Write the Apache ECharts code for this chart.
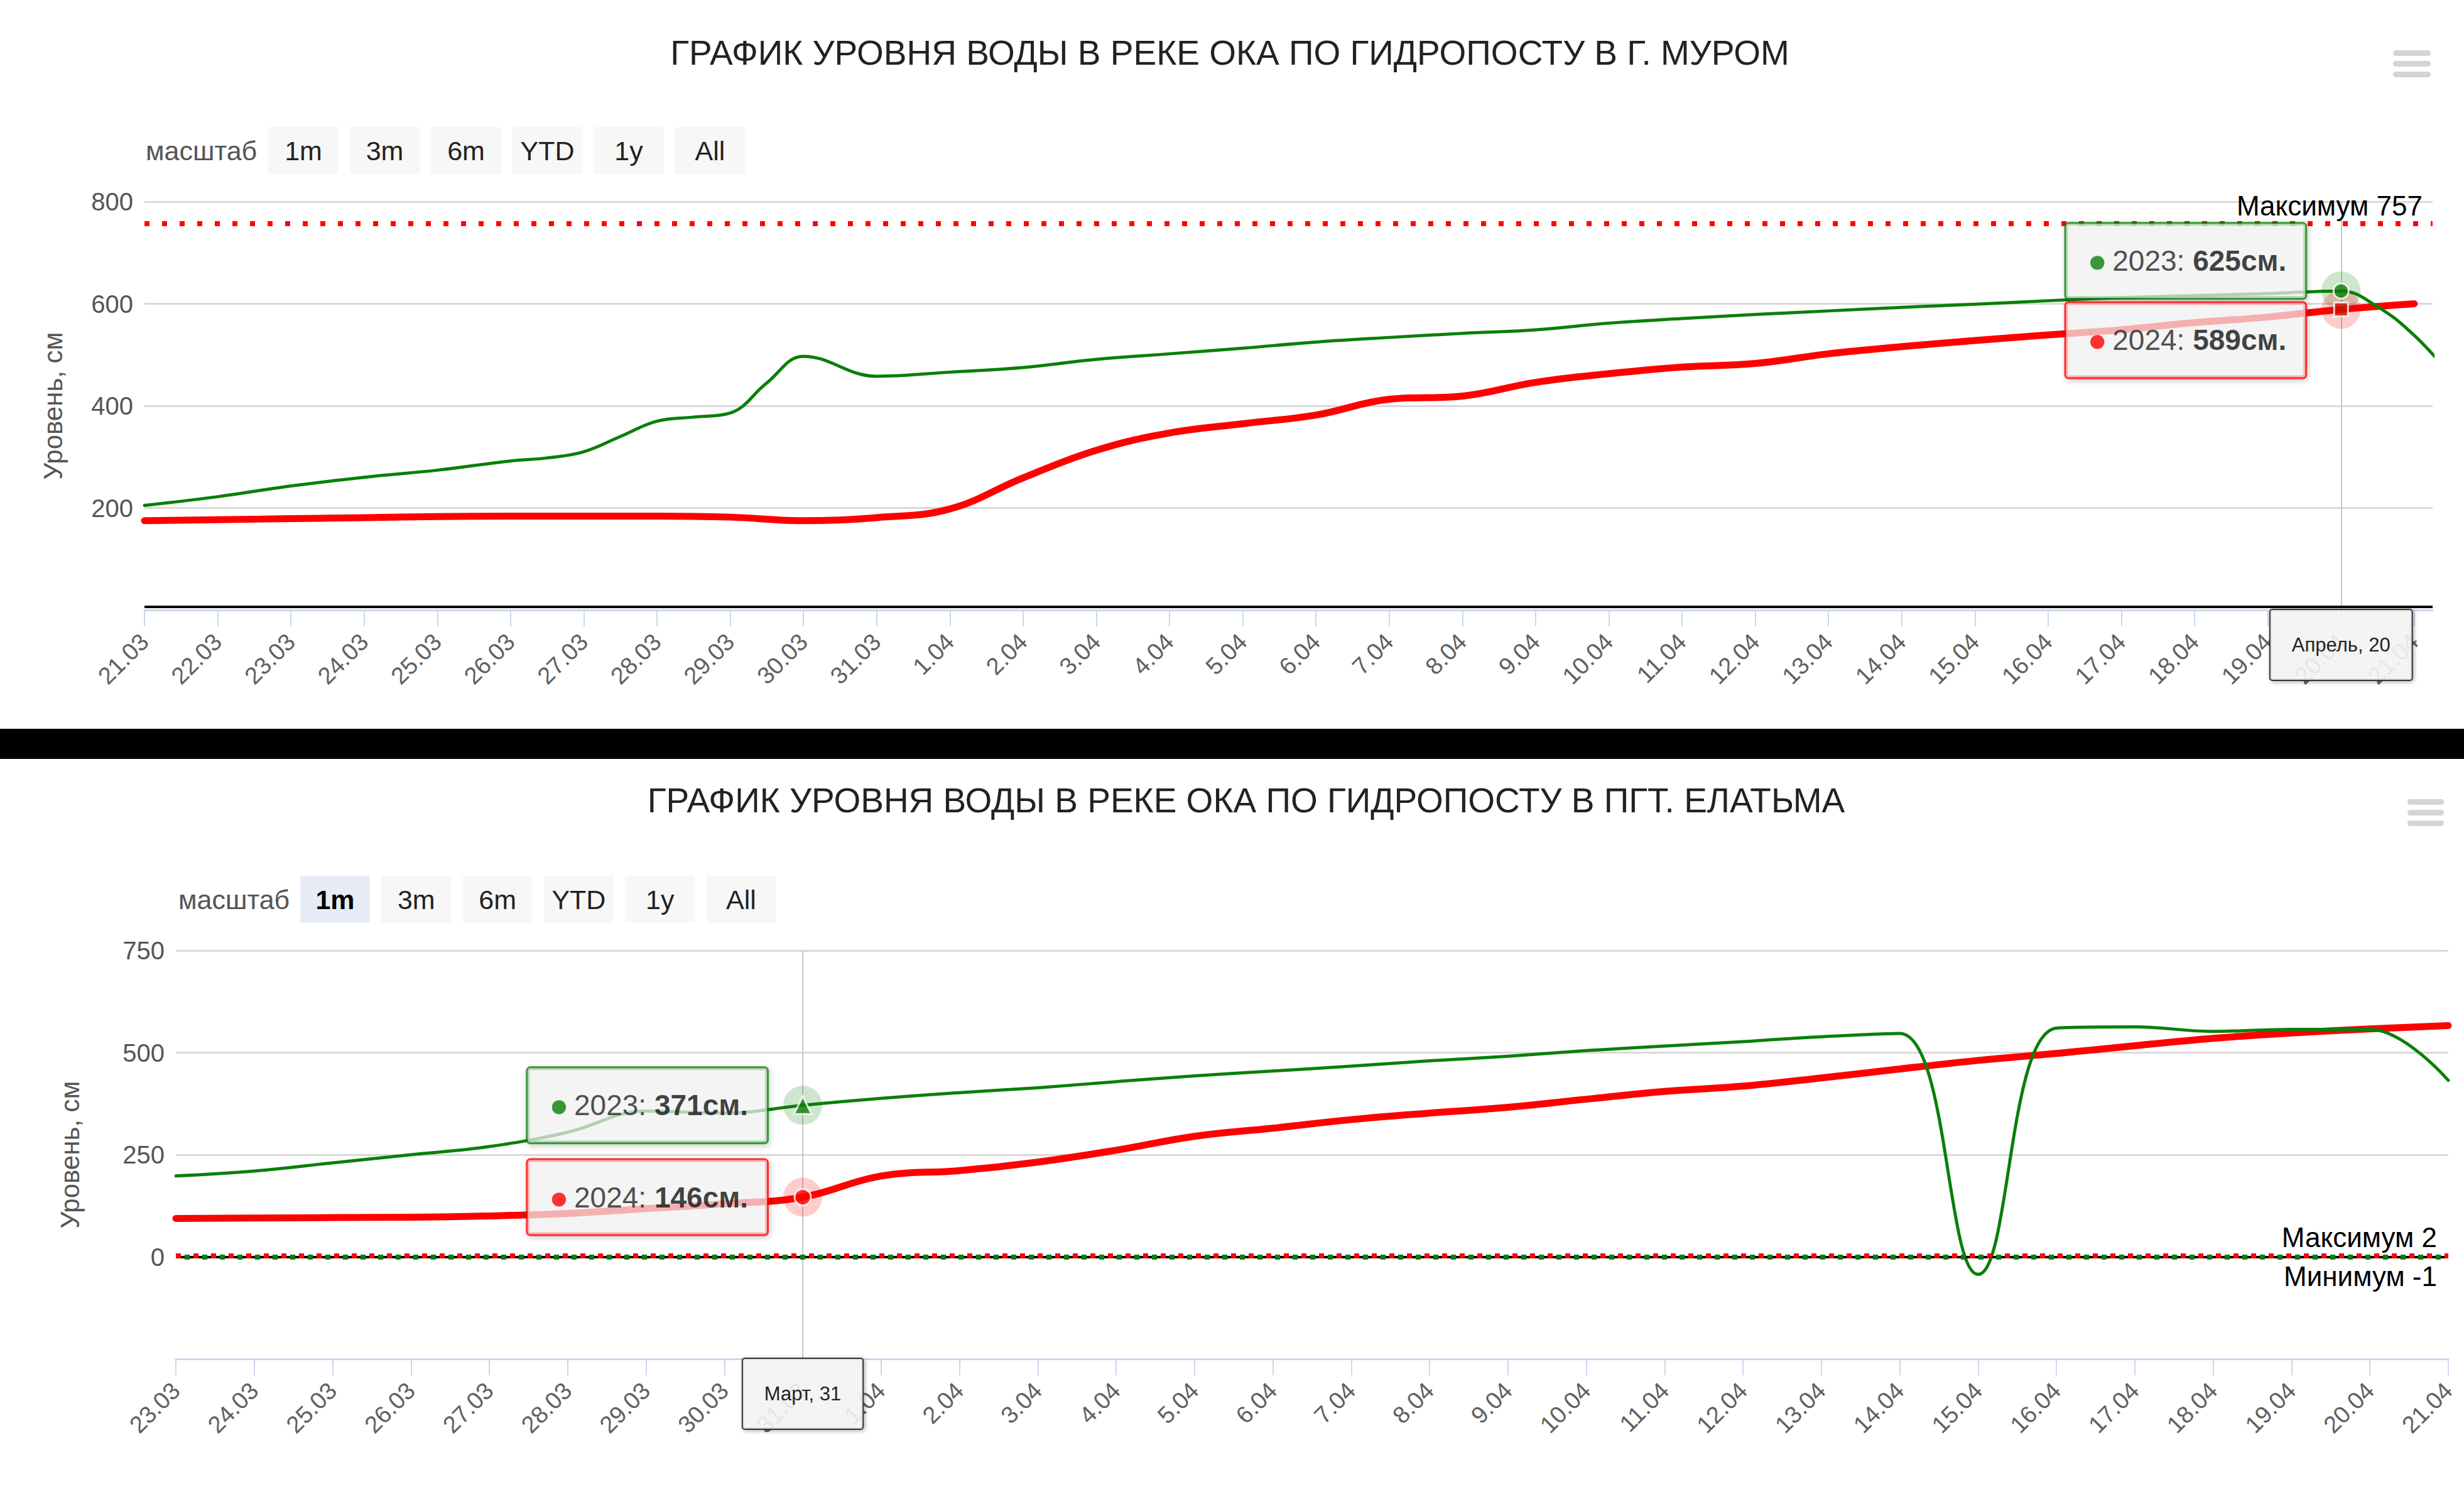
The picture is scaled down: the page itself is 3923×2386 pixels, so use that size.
<!DOCTYPE html>
<html>
<head>
<meta charset="utf-8">
<script src="https://cdn.jsdelivr.net/npm/echarts@6/dist/echarts.min.js"></script>
<style>
html,body{margin:0;padding:0;background:#fff;}
#c{width:3923px;height:2386px;}
</style>
</head>
<body>
<div id="c"></div>
<script>
// ---------------- DATA ----------------
const topTitle = 'ГРАФИК УРОВНЯ ВОДЫ В РЕКЕ ОКА ПО ГИДРОПОСТУ В Г. МУРОМ';
const botTitle = 'ГРАФИК УРОВНЯ ВОДЫ В РЕКЕ ОКА ПО ГИДРОПОСТУ В ПГТ. ЕЛАТЬМА';
const yName = 'Уровень, см';
const zoomLabel = 'масштаб';
const rangeButtons = ['1m', '3m', '6m', 'YTD', '1y', 'All'];
const seriesNames = ['2023', '2024'];

// Top chart (Муром): x = days since 21.03
const topTickLabels = ['21.03','22.03','23.03','24.03','25.03','26.03','27.03','28.03','29.03','30.03','31.03',
  '1.04','2.04','3.04','4.04','5.04','6.04','7.04','8.04','9.04','10.04','11.04','12.04','13.04','14.04',
  '15.04','16.04','17.04','18.04','19.04','20.04','21.04'];
const topX2023 = [0,1,2,3,4,5,5.5,6,6.5,7,7.5,8,8.5,9,10,11,12,13,14,15,16,17,18,19,20,21,22,23,24,25,26,27,28,29,30,30.5,31,31.5];
const top2023  = [205,222,243,260,274,292,298,310,340,370,378,386,445,497,458,466,475,491,502,513,525,534,542,549,562,571,579,586,593,599,606,612,616,620,625,594,538,460];
const topX2024 = [0,1,2,3,4,5,6,7,8,9,10,11,12,13,14,15,16,17,18,19,20,21,22,23,24,25,26,27,28,29,30,31];
const top2024  = [175,177,179,181,183,184,184,184,182,175,181,198,259,313,347,365,382,413,419,446,463,476,483,502,516,528,539,549,563,574,589,600];
const topXMax = 31.25;
const topMaximum = 757;
const topBaseLine = 6;
const topHover = { x: 30, label: 'Апрель, 20' };

// Bottom chart (Елатьма): x = days since 23.03
const botTickLabels = ['23.03','24.03','25.03','26.03','27.03','28.03','29.03','30.03','31.03',
  '1.04','2.04','3.04','4.04','5.04','6.04','7.04','8.04','9.04','10.04','11.04','12.04','13.04','14.04',
  '15.04','16.04','17.04','18.04','19.04','20.04','21.04'];
const botX    = [0,1,2,3,4,5,6,7,8,9,10,11,12,13,14,15,16,17,18,19,20,21,22,23,24,25,26,27,28,29];
const bot2023 = [198,210,230,250,270,305,357,352,371,388,402,414,429,443,455,467,480,491,505,516,527,539,547,-43,560,563,552,557,557,432];
const bot2024 = [94,95,96,97,100,106,118,130,146,198,211,232,261,295,315,336,352,366,386,405,418,438,460,481,498,517,535,548,558,566];
const botMaximum = 2;
const botMinimum = -1;
const botZeroLine = 0;
const botHover = { x: 8, label: 'Март, 31' };

// ---------------- STYLE ----------------
const FONT = "'Liberation Sans', Arial, sans-serif";
const GREEN = '#0a7f0a';
const RED = '#ff0000';

const pairs = (xs, ys) => xs.map((x, i) => [x, ys[i]]);
const valueAt = (xs, ys, x) => ys[xs.indexOf(x)];

function xAxisOpt(gridIndex, labels, max, hover) {
  const idx = labels.map((_, i) => i);
  return {
    type: 'value', gridIndex, min: 0, max,
    axisLine: { show: true, onZero: false, lineStyle: { color: '#ccd6eb', width: 3 } },
    axisTick: { show: true, length: 26, customValues: idx, lineStyle: { color: '#ccd6eb', width: 2 } },
    axisLabel: {
      customValues: idx, formatter: v => (labels[Math.round(v)] !== undefined ? labels[Math.round(v)] : ''),
      rotate: 45, margin: 44, fontSize: 38, color: '#606060', fontFamily: FONT
    },
    splitLine: { show: false },
    axisPointer: {
      show: true, status: 'show', value: hover.x, snap: false, triggerTooltip: false, z: 1,
      lineStyle: { color: '#c8c8c8', width: 2, type: 'solid' },
      label: {
        show: true, formatter: () => hover.label, margin: 0, padding: [40, 34],
        fontSize: 31, fontFamily: FONT, color: '#222',
        backgroundColor: 'rgba(247,247,247,0.88)', borderColor: '#333', borderWidth: 2, borderRadius: 3,
        shadowColor: 'rgba(0,0,0,0.3)', shadowBlur: 6, shadowOffsetX: 2, shadowOffsetY: 2
      }
    }
  };
}

function yAxisOpt(gridIndex, min, max, interval, gap) {
  return {
    type: 'value', gridIndex, min, max, interval,
    name: yName, nameLocation: 'middle', nameGap: gap,
    nameTextStyle: { fontSize: 42, color: '#555', fontFamily: FONT },
    axisLine: { show: false }, axisTick: { show: false },
    axisLabel: { fontSize: 40, color: '#555', margin: 18, fontFamily: FONT,
      formatter: v => (v === min ? '' : String(v)) },
    splitLine: { lineStyle: { color: '#d9d9d9', width: 3 } }
  };
}

function lineSeries(name, ai, data, color, width, z, markLine) {
  const s = {
    type: 'line', name, xAxisIndex: ai, yAxisIndex: ai, data, smooth: 0.4,
    showSymbol: false, symbol: 'none', silent: true, clip: true, z,
    lineStyle: { color, width, cap: 'round', join: 'round' }, itemStyle: { color }
  };
  if (markLine) s.markLine = markLine;
  return s;
}

function tipLabel(p) {
  return {
    show: true, position: 'left', distance: 26, offset: [0, p.dy],
    formatter: '{dot|●}{sp| }{t|' + p.name + ': }{b|' + p.y + 'см.}',
    rich: {
      dot: { color: p.color, fontSize: 52, fontFamily: FONT },
      sp: { fontSize: 30, fontFamily: FONT },
      t: { fontSize: 46, color: '#222', fontFamily: FONT },
      b: { fontSize: 46, color: '#111', fontWeight: 'bold', fontFamily: FONT }
    },
    backgroundColor: 'rgba(247,247,247,0.85)', borderColor: p.color, borderWidth: 3, borderRadius: 4,
    padding: [33, 30, 33, 34],
    shadowColor: 'rgba(0,0,0,0.25)', shadowBlur: 8, shadowOffsetX: 2, shadowOffsetY: 3
  };
}

function hoverSeries(ai, pts) {
  return [
    { type: 'scatter', xAxisIndex: ai, yAxisIndex: ai, z: 20, silent: true, clip: false,
      data: pts.map(p => ({ value: [p.x, p.y], symbol: 'circle', symbolSize: 62,
        itemStyle: { color: p.halo }, label: tipLabel(p) })) },
    { type: 'scatter', xAxisIndex: ai, yAxisIndex: ai, z: 21, silent: true, clip: false,
      data: pts.map(p => ({ value: [p.x, p.y], symbol: p.symbol, symbolSize: p.size,
        itemStyle: { color: p.mark, borderColor: '#ffffff', borderWidth: 3 } })) }
  ];
}

function dotted(color, width, offset) {
  return { color, width, type: [8, 20], dashOffset: offset || 0, cap: 'butt' };
}

const topMarkLine = {
  symbol: ['none', 'none'], silent: true, animation: false,
  data: [
    { yAxis: topBaseLine, lineStyle: { color: '#000', width: 4, type: 'solid' }, label: { show: false } },
    { yAxis: topMaximum, lineStyle: dotted(RED, 8),
      label: { show: true, position: 'insideEndTop', formatter: 'Максимум ' + topMaximum,
        color: '#000', fontSize: 44, fontFamily: FONT, distance: [16, 6] } }
  ]
};
const botMarkLine = {
  symbol: ['none', 'none'], silent: true, animation: false,
  data: [
    { yAxis: botZeroLine, lineStyle: { color: '#000', width: 4, type: 'solid' }, label: { show: false } },
    { yAxis: botMaximum, lineStyle: dotted(RED, 8),
      label: { show: true, position: 'insideEndTop', formatter: 'Максимум ' + botMaximum,
        color: '#000', fontSize: 44, fontFamily: FONT, distance: [18, 8] } },
    { yAxis: botMinimum, lineStyle: dotted(GREEN, 8, 14),
      label: { show: true, position: 'insideEndBottom', formatter: 'Минимум ' + botMinimum,
        color: '#000', fontSize: 44, fontFamily: FONT, distance: [18, 8] } }
  ]
};

// ---------------- GRAPHICS (titles, buttons, menu, separator) ----------------
const graphic = [];
graphic.push({ type: 'rect', shape: { x: 0, y: 1160, width: 3923, height: 48 }, style: { fill: '#000' }, silent: true });
function addTitle(text, cx, cy) {
  graphic.push({ type: 'text', x: cx, y: cy, silent: true,
    style: { text, fill: '#222', fontSize: 55, fontFamily: FONT, textAlign: 'center', textVerticalAlign: 'middle' } });
}
function addButtons(labelX, x0, top, pitch, w, h, selected) {
  graphic.push({ type: 'text', x: labelX, y: top + h / 2, silent: true,
    style: { text: zoomLabel, fill: '#555', fontSize: 43, fontFamily: FONT, textAlign: 'left', textVerticalAlign: 'middle' } });
  rangeButtons.forEach((b, i) => {
    const x = x0 + i * pitch;
    const sel = i === selected;
    graphic.push({ type: 'rect', silent: true, shape: { x, y: top, width: w, height: h, r: 3 },
      style: { fill: sel ? '#e6ebf5' : '#f7f7f7' } });
    graphic.push({ type: 'text', silent: true, x: x + w / 2, y: top + h / 2,
      style: { text: b, fill: sel ? '#000' : '#222', fontSize: 43, fontWeight: sel ? 'bold' : 'normal',
        fontFamily: FONT, textAlign: 'center', textVerticalAlign: 'middle' } });
  });
}
function addMenu(x, y0, w) {
  [0, 17, 34].forEach(d => graphic.push({ type: 'rect', silent: true,
    shape: { x, y: y0 + d, width: w, height: 9, r: 4.5 }, style: { fill: '#d4d4d4' } }));
}
addTitle(topTitle, 1958, 84);
addTitle(botTitle, 1984, 1274);
addButtons(232, 427, 202, 129.5, 112, 75, -1);
addButtons(284, 478, 1394, 129.3, 111, 75, 0);
addMenu(3810, 80, 60);
addMenu(3833, 1272, 58);

// ---------------- OPTION ----------------
const topHoverPts = [
  { x: topHover.x, y: valueAt(topX2023, top2023, topHover.x), name: seriesNames[0], color: GREEN,
    halo: 'rgba(10,127,10,0.25)', mark: GREEN, symbol: 'circle', size: 24, dy: -48 },
  { x: topHover.x, y: valueAt(topX2024, top2024, topHover.x), name: seriesNames[1], color: RED,
    halo: 'rgba(255,0,0,0.25)', mark: '#cc1100', symbol: 'rect', size: 22, dy: 49 }
];
const botHoverPts = [
  { x: botHover.x, y: valueAt(botX, bot2023, botHover.x), name: seriesNames[0], color: GREEN,
    halo: 'rgba(10,127,10,0.25)', mark: GREEN, symbol: 'triangle', size: 28, dy: 0 },
  { x: botHover.x, y: valueAt(botX, bot2024, botHover.x), name: seriesNames[1], color: RED,
    halo: 'rgba(255,0,0,0.25)', mark: RED, symbol: 'circle', size: 26, dy: 0 }
];

const option = {
  backgroundColor: '#ffffff',
  animation: false,
  textStyle: { fontFamily: FONT },
  grid: [
    { left: 230, top: 321, width: 3643, height: 650, containLabel: false },
    { left: 280, top: 1513, width: 3618, height: 650, containLabel: false }
  ],
  xAxis: [
    xAxisOpt(0, topTickLabels, topXMax, topHover),
    xAxisOpt(1, botTickLabels, botX[botX.length - 1], botHover)
  ],
  yAxis: [
    yAxisOpt(0, 0, 800, 200, 125),
    yAxisOpt(1, -250, 750, 250, 148)
  ],
  graphic,
  series: [
    lineSeries(seriesNames[1], 0, pairs(topX2024, top2024), RED, 11, 3, topMarkLine),
    lineSeries(seriesNames[0], 0, pairs(topX2023, top2023), GREEN, 5, 4),
    lineSeries(seriesNames[1], 1, pairs(botX, bot2024), RED, 11, 3, botMarkLine),
    lineSeries(seriesNames[0], 1, pairs(botX, bot2023), GREEN, 5, 4),
    ...hoverSeries(0, topHoverPts),
    ...hoverSeries(1, botHoverPts)
  ]
};

const chart = echarts.init(document.getElementById('c'), null, { renderer: 'svg', width: 3923, height: 2386 });
chart.setOption(option);
</script>
</body>
</html>
